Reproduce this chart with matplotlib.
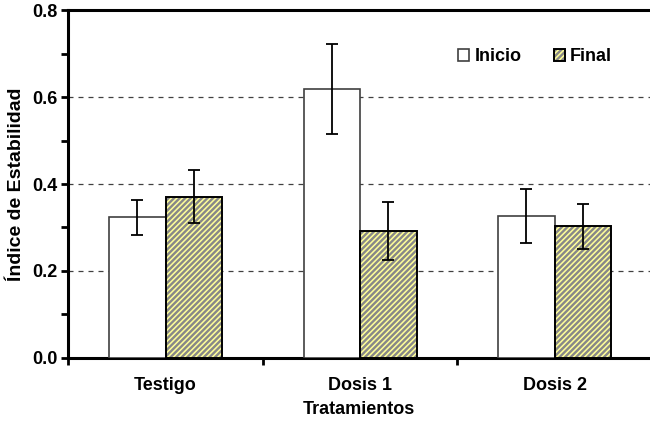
import numpy as np
import matplotlib
matplotlib.use("Agg")
import matplotlib.pyplot as plt
from matplotlib.ticker import MultipleLocator
from matplotlib.legend_handler import HandlerTuple

plt.rcParams['font.family'] = ['Liberation Sans', 'DejaVu Sans']
plt.rcParams['font.weight'] = 'bold'
plt.rcParams['hatch.linewidth'] = 1.7

# Stability index per treatment (start / end) with error bars
treatments = ['Testigo', 'Dosis 1', 'Dosis 2']
inicio = [0.323, 0.619, 0.327]
inicio_err = [0.040, 0.103, 0.062]
final = [0.371, 0.292, 0.303]
final_err = [0.061, 0.066, 0.052]

fig = plt.figure(figsize=(6.5, 4.24), dpi=100)
ax = fig.add_axes([0.105, 0.156, 0.895, 0.820])

x = np.arange(len(treatments))
w = 0.29

b_ini = ax.bar(x - w / 2, inicio, w, color='white', edgecolor='#404040',
               linewidth=1.2, zorder=3)
# hatch takes the edge colour, so fill with grey stripes first, then outline
b_fin = ax.bar(x + w / 2, final, w, color='#ffff99', edgecolor='#888888',
               linewidth=0, hatch='//////', zorder=3)
b_out = ax.bar(x + w / 2, final, w, fill=False, edgecolor='black',
               linewidth=1.4, zorder=3)

ax.errorbar(x - w / 2, inicio, yerr=inicio_err, fmt='none', ecolor='black',
            elinewidth=1.3, capsize=4, capthick=1.3, zorder=4)
ax.errorbar(x + w / 2, final, yerr=final_err, fmt='none', ecolor='black',
            elinewidth=1.3, capsize=4, capthick=1.3, zorder=4)

ax.set_ylim(0, 0.8)
ax.set_xlim(-0.5, 2.49)
ax.yaxis.set_major_locator(MultipleLocator(0.2))
ax.yaxis.set_minor_locator(MultipleLocator(0.1))
ax.yaxis.set_major_formatter(plt.FormatStrFormatter('%.1f'))

# category labels centred, ticks on the boundaries
ax.set_xticks([-0.5, 0.5, 1.5])
ax.set_xticklabels([])
ax.set_xticks(x, minor=True)
ax.set_xticklabels(treatments, minor=True)
ax.tick_params(axis='x', which='minor', length=0, pad=14, labelsize=13)
ax.tick_params(axis='x', which='major', direction='out', length=5, width=2)
ax.tick_params(axis='y', which='both', direction='out', width=2, labelsize=13,
               length=5, pad=3)

for y in [0.2, 0.4, 0.6]:
    ax.axhline(y, color='#404040', linestyle=(0, (4, 4)), linewidth=0.9, zorder=1)

for side in ['left', 'bottom', 'top']:
    ax.spines[side].set_linewidth(2.2)
ax.spines['right'].set_visible(False)

ax.set_ylabel('Índice de Estabilidad', fontsize=14, fontweight='bold', labelpad=5)
ax.set_xlabel('Tratamientos', fontsize=13, fontweight='bold', labelpad=5)

ax.legend([b_ini[0], (b_fin[0], b_out[0])], ['Inicio', 'Final'],
          handler_map={tuple: HandlerTuple(ndivide=1, pad=0)},
          loc='upper right', bbox_to_anchor=(0.935, 0.89), ncol=2, frameon=False,
          fontsize=13, handlelength=0.6, handleheight=0.6, handletextpad=0.3,
          columnspacing=1.8, borderpad=0, borderaxespad=0)

fig.savefig('out.png', dpi=100)
